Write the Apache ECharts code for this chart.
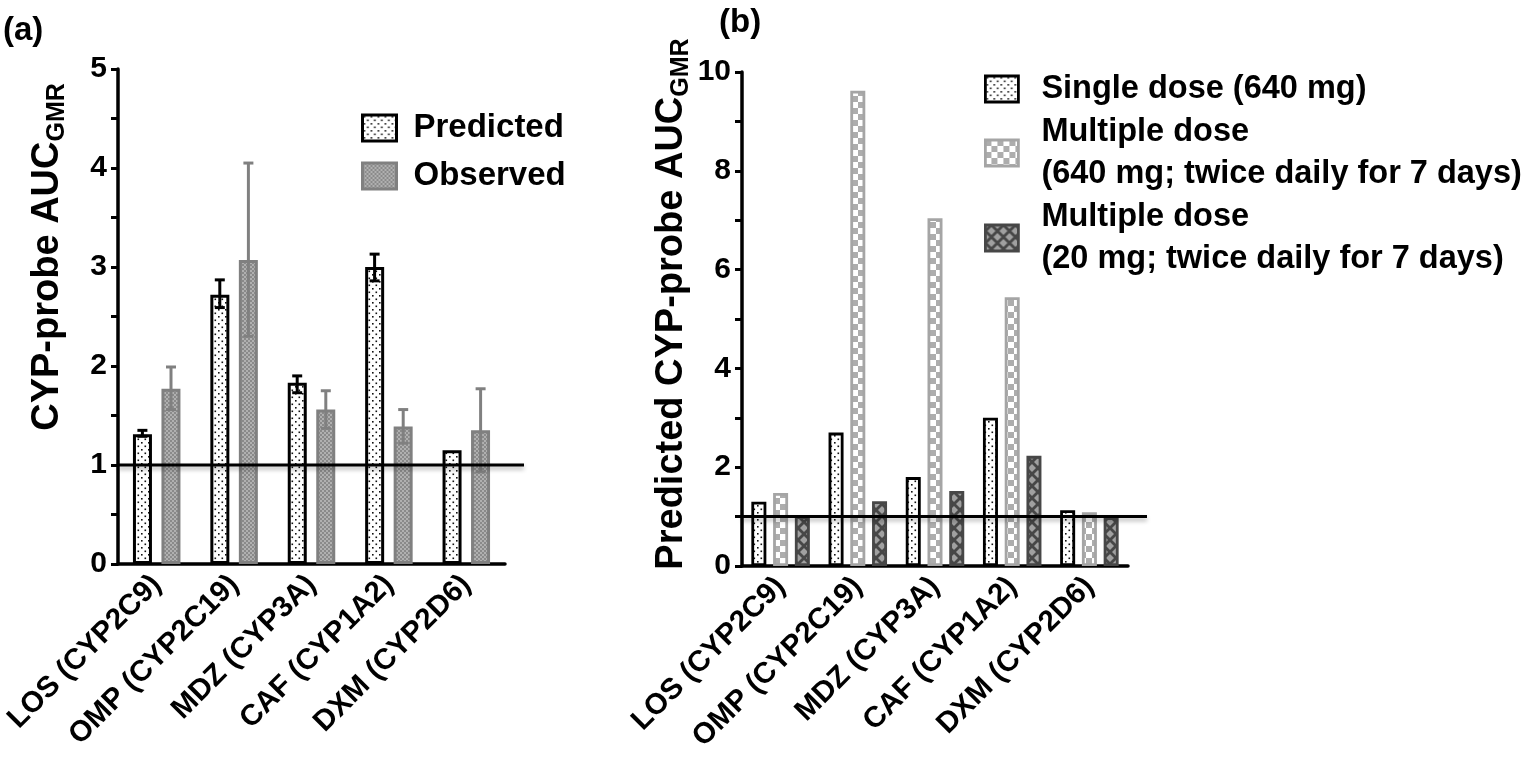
<!DOCTYPE html>
<html>
<head>
<meta charset="utf-8">
<script src="https://cdn.jsdelivr.net/npm/echarts@6/dist/echarts.min.js"></script>
<style>
  html, body { margin: 0; padding: 0; background: #fff; }
  #chart { width: 1523px; height: 761px; }
</style>
</head>
<body>
<div id="chart"></div>
<script>
// categories (shared by both panels)
var probes = ['LOS (CYP2C9)', 'OMP (CYP2C19)', 'MDZ (CYP3A)', 'CAF (CYP1A2)', 'DXM (CYP2D6)'];

// panel (a): predicted vs observed AUC ratio
var predicted = [1.31, 2.72, 1.83, 3.00, 1.15];
var predictedLow = [1.29, 2.59, 1.73, 2.86, null];
var predictedHigh = [1.35, 2.87, 1.90, 3.13, null];
var observed = [1.77, 3.07, 1.56, 1.39, 1.35];
var observedLow = [1.56, 2.30, 1.37, 1.22, 0.93];
var observedHigh = [1.99, 4.05, 1.75, 1.56, 1.77];

// panel (b): predicted AUC ratio per dosing regimen
var singleDose = [1.30, 2.70, 1.80, 3.00, 1.13];
var multiDose640 = [1.48, 9.62, 7.04, 5.44, 1.09];
var multiDose20 = [1.01, 1.31, 1.52, 2.23, 0.99];

var refLevel = [1];

var FONT = 'Liberation Sans, Arial, sans-serif';

function makePattern(size, draw) {
    var c = document.createElement('canvas');
    c.width = size;
    c.height = size;
    draw(c.getContext('2d'), size);
    return { image: c, repeat: 'repeat' };
}

// white with black dots
var dotFill = makePattern(7, function (ctx) {
    ctx.fillStyle = '#fff';
    ctx.fillRect(0, 0, 7, 7);
    ctx.fillStyle = '#111';
    ctx.fillRect(1, 1, 1.6, 1.6);
    ctx.fillRect(4.5, 4.5, 1.6, 1.6);
});
// dense grey mesh
var meshFill = makePattern(4, function (ctx) {
    ctx.fillStyle = '#8a8a8a';
    ctx.fillRect(0, 0, 4, 4);
    ctx.fillStyle = '#e4e4e4';
    ctx.beginPath();
    ctx.arc(1, 1, 0.8, 0, Math.PI * 2);
    ctx.arc(3, 3, 0.8, 0, Math.PI * 2);
    ctx.fill();
});
// light checkerboard
var checkFill = makePattern(12, function (ctx) {
    ctx.fillStyle = '#fff';
    ctx.fillRect(0, 0, 12, 12);
    ctx.fillStyle = '#adadad';
    ctx.fillRect(0, 0, 6, 6);
    ctx.fillRect(6, 6, 6, 6);
});
// dark grey with light diamonds
var diamondFill = makePattern(12, function (ctx) {
    ctx.fillStyle = '#474747';
    ctx.fillRect(0, 0, 12, 12);
    ctx.fillStyle = '#a0a0a0';
    [[6, 6], [0, 0], [12, 0], [0, 12], [12, 12]].forEach(function (p) {
        ctx.beginPath();
        ctx.moveTo(p[0], p[1] - 4);
        ctx.lineTo(p[0] + 4, p[1]);
        ctx.lineTo(p[0], p[1] + 4);
        ctx.lineTo(p[0] - 4, p[1]);
        ctx.closePath();
        ctx.fill();
    });
});

var predStyle = { color: dotFill, borderColor: '#000', borderWidth: 3 };
var obsStyle = { color: meshFill, borderColor: '#808080', borderWidth: 3 };
var singleStyle = { color: dotFill, borderColor: '#000', borderWidth: 2.8 };
var multi640Style = { color: checkFill, borderColor: '#a5a5a5', borderWidth: 2.8 };
var multi20Style = { color: diamondFill, borderColor: '#474747', borderWidth: 2.8 };

function errorData(low, high) {
    var out = [];
    low.forEach(function (v, i) {
        if (v != null) out.push([i, v, high[i]]);
    });
    return out;
}

// whiskers with caps, shifted onto their bar
function errorRender(offset, color) {
    return function (params, api) {
        var lo = api.coord([api.value(0), api.value(1)]);
        var hi = api.coord([api.value(0), api.value(2)]);
        var x = lo[0] + offset;
        var st = { stroke: color, lineWidth: 3 };
        return {
            type: 'group',
            children: [
                { type: 'line', shape: { x1: x, y1: lo[1], x2: x, y2: hi[1] }, style: st },
                { type: 'line', shape: { x1: x - 5, y1: lo[1], x2: x + 5, y2: lo[1] }, style: st },
                { type: 'line', shape: { x1: x - 5, y1: hi[1], x2: x + 5, y2: hi[1] }, style: st }
            ]
        };
    };
}

// reference line at ratio 1, running a little past the x axis
function refLineRender(params, api) {
    var cs = params.coordSys;
    var y = api.coord([0, api.value(1)])[1];
    return {
        type: 'line',
        shape: { x1: cs.x, y1: y, x2: cs.x + cs.width + 19, y2: y },
        style: {
            stroke: '#000', lineWidth: 3,
            shadowColor: 'rgba(0,0,0,0.3)', shadowBlur: 4, shadowOffsetY: 3
        }
    };
}

function yAxisBase(max, interval, name, shift) {
    return {
        type: 'value',
        min: 0,
        max: max,
        interval: interval,
        name: name,
        nameLocation: 'middle',
        nameRotate: 90,
        nameGap: 48,
        nameTextStyle: {
            fontFamily: FONT, fontSize: 38, fontWeight: 'bold', color: '#000',
            lineHeight: 44, padding: [0, 0, 0, shift],
            rich: {
                s: { fontFamily: FONT, fontSize: 25, fontWeight: 'bold', color: '#000', lineHeight: 24, verticalAlign: 'bottom' }
            }
        },
        axisLine: { show: true, lineStyle: { color: '#000', width: 3.5 } },
        axisTick: { show: true, length: 7, lineStyle: { color: '#000', width: 3 } },
        minorTick: { show: true, splitNumber: 2, length: 7, lineStyle: { color: '#000', width: 3 } },
        splitLine: { show: false },
        axisLabel: { fontFamily: FONT, fontSize: 30, fontWeight: 'bold', color: '#000', margin: 11 }
    };
}

function xAxisBase(grid) {
    return {
        type: 'category',
        gridIndex: grid,
        data: probes,
        axisLine: { lineStyle: { color: '#000', width: 3.5 } },
        axisTick: { alignWithLabel: true, length: 9, lineStyle: { color: '#000', width: 3 } },
        axisLabel: {
            interval: 0, rotate: 45, margin: 16,
            fontFamily: FONT, fontSize: 29.5, fontWeight: 'bold', color: '#000'
        }
    };
}

var multiNames = {
    'Multiple dose 640': 'Multiple dose\n(640 mg; twice daily for 7 days)',
    'Multiple dose 20': 'Multiple dose\n(20 mg; twice daily for 7 days)'
};

var yA = yAxisBase(5, 1, 'CYP-probe AUC{s|GMR}', 119);
var yB = yAxisBase(10, 2, 'Predicted CYP-probe AUC{s|GMR}', 30);
yB.gridIndex = 1;

var option = {
    backgroundColor: '#fff',
    animation: false,
    title: [
        { text: '(a)', left: -2, top: 9, textStyle: { fontFamily: FONT, fontSize: 33, fontWeight: 'bold', color: '#000' } },
        { text: '(b)', left: 714, top: 1, textStyle: { fontFamily: FONT, fontSize: 33, fontWeight: 'bold', color: '#000' } }
    ],
    legend: [
        {
            orient: 'vertical', left: 356, top: 105,
            itemWidth: 34, itemHeight: 26, itemGap: 12, icon: 'rect',
            selectedMode: false,
            textStyle: { fontFamily: FONT, fontSize: 33, fontWeight: 'bold', color: '#000', lineHeight: 36, padding: [0, 0, 0, 12] },
            data: [
                { name: 'Predicted', itemStyle: predStyle },
                { name: 'Observed', itemStyle: obsStyle }
            ]
        },
        {
            orient: 'vertical', left: 979, top: 63,
            itemWidth: 33, itemHeight: 26, itemGap: 1, icon: 'rect',
            selectedMode: false,
            formatter: function (name) { return multiNames[name] || name; },
            textStyle: { fontFamily: FONT, fontSize: 32.5, fontWeight: 'bold', color: '#000', lineHeight: 42, padding: [0, 0, 0, 18] },
            data: [
                { name: 'Single dose (640 mg)', itemStyle: singleStyle },
                { name: 'Multiple dose 640', itemStyle: multi640Style },
                { name: 'Multiple dose 20', itemStyle: multi20Style }
            ]
        }
    ],
    grid: [
        { left: 118, top: 69, width: 387, height: 495, outerBoundsMode: 'none' },
        { left: 742, top: 72, width: 386, height: 494, outerBoundsMode: 'none' }
    ],
    xAxis: [xAxisBase(0), xAxisBase(1)],
    yAxis: [yA, yB],
    series: [
        { name: 'Predicted', type: 'bar', xAxisIndex: 0, yAxisIndex: 0, barWidth: 19, barGap: '50%', itemStyle: predStyle, data: predicted },
        { name: 'Observed', type: 'bar', xAxisIndex: 0, yAxisIndex: 0, barWidth: 19, barGap: '50%', itemStyle: obsStyle, data: observed },
        {
            type: 'custom', xAxisIndex: 0, yAxisIndex: 0, z: 4, silent: true,
            encode: { x: 0, y: [1, 2] },
            renderItem: errorRender(-14.3, '#000'),
            data: errorData(predictedLow, predictedHigh)
        },
        {
            type: 'custom', xAxisIndex: 0, yAxisIndex: 0, z: 4, silent: true,
            encode: { x: 0, y: [1, 2] },
            renderItem: errorRender(14.3, '#808080'),
            data: errorData(observedLow, observedHigh)
        },
        {
            type: 'custom', xAxisIndex: 0, yAxisIndex: 0, z: 5, silent: true, clip: false,
            encode: { x: 0, y: 1 },
            renderItem: refLineRender,
            data: refLevel.map(function (v) { return [0, v]; })
        },
        { name: 'Single dose (640 mg)', type: 'bar', xAxisIndex: 1, yAxisIndex: 1, barWidth: 15, barGap: '45%', itemStyle: singleStyle, data: singleDose },
        { name: 'Multiple dose 640', type: 'bar', xAxisIndex: 1, yAxisIndex: 1, barWidth: 15, barGap: '45%', itemStyle: multi640Style, data: multiDose640 },
        { name: 'Multiple dose 20', type: 'bar', xAxisIndex: 1, yAxisIndex: 1, barWidth: 15, barGap: '45%', itemStyle: multi20Style, data: multiDose20 },
        {
            type: 'custom', xAxisIndex: 1, yAxisIndex: 1, z: 5, silent: true, clip: false,
            encode: { x: 0, y: 1 },
            renderItem: refLineRender,
            data: refLevel.map(function (v) { return [0, v]; })
        }
    ]
};

var myChart = echarts.init(document.getElementById('chart'));
myChart.setOption(option);
</script>
</body>
</html>
